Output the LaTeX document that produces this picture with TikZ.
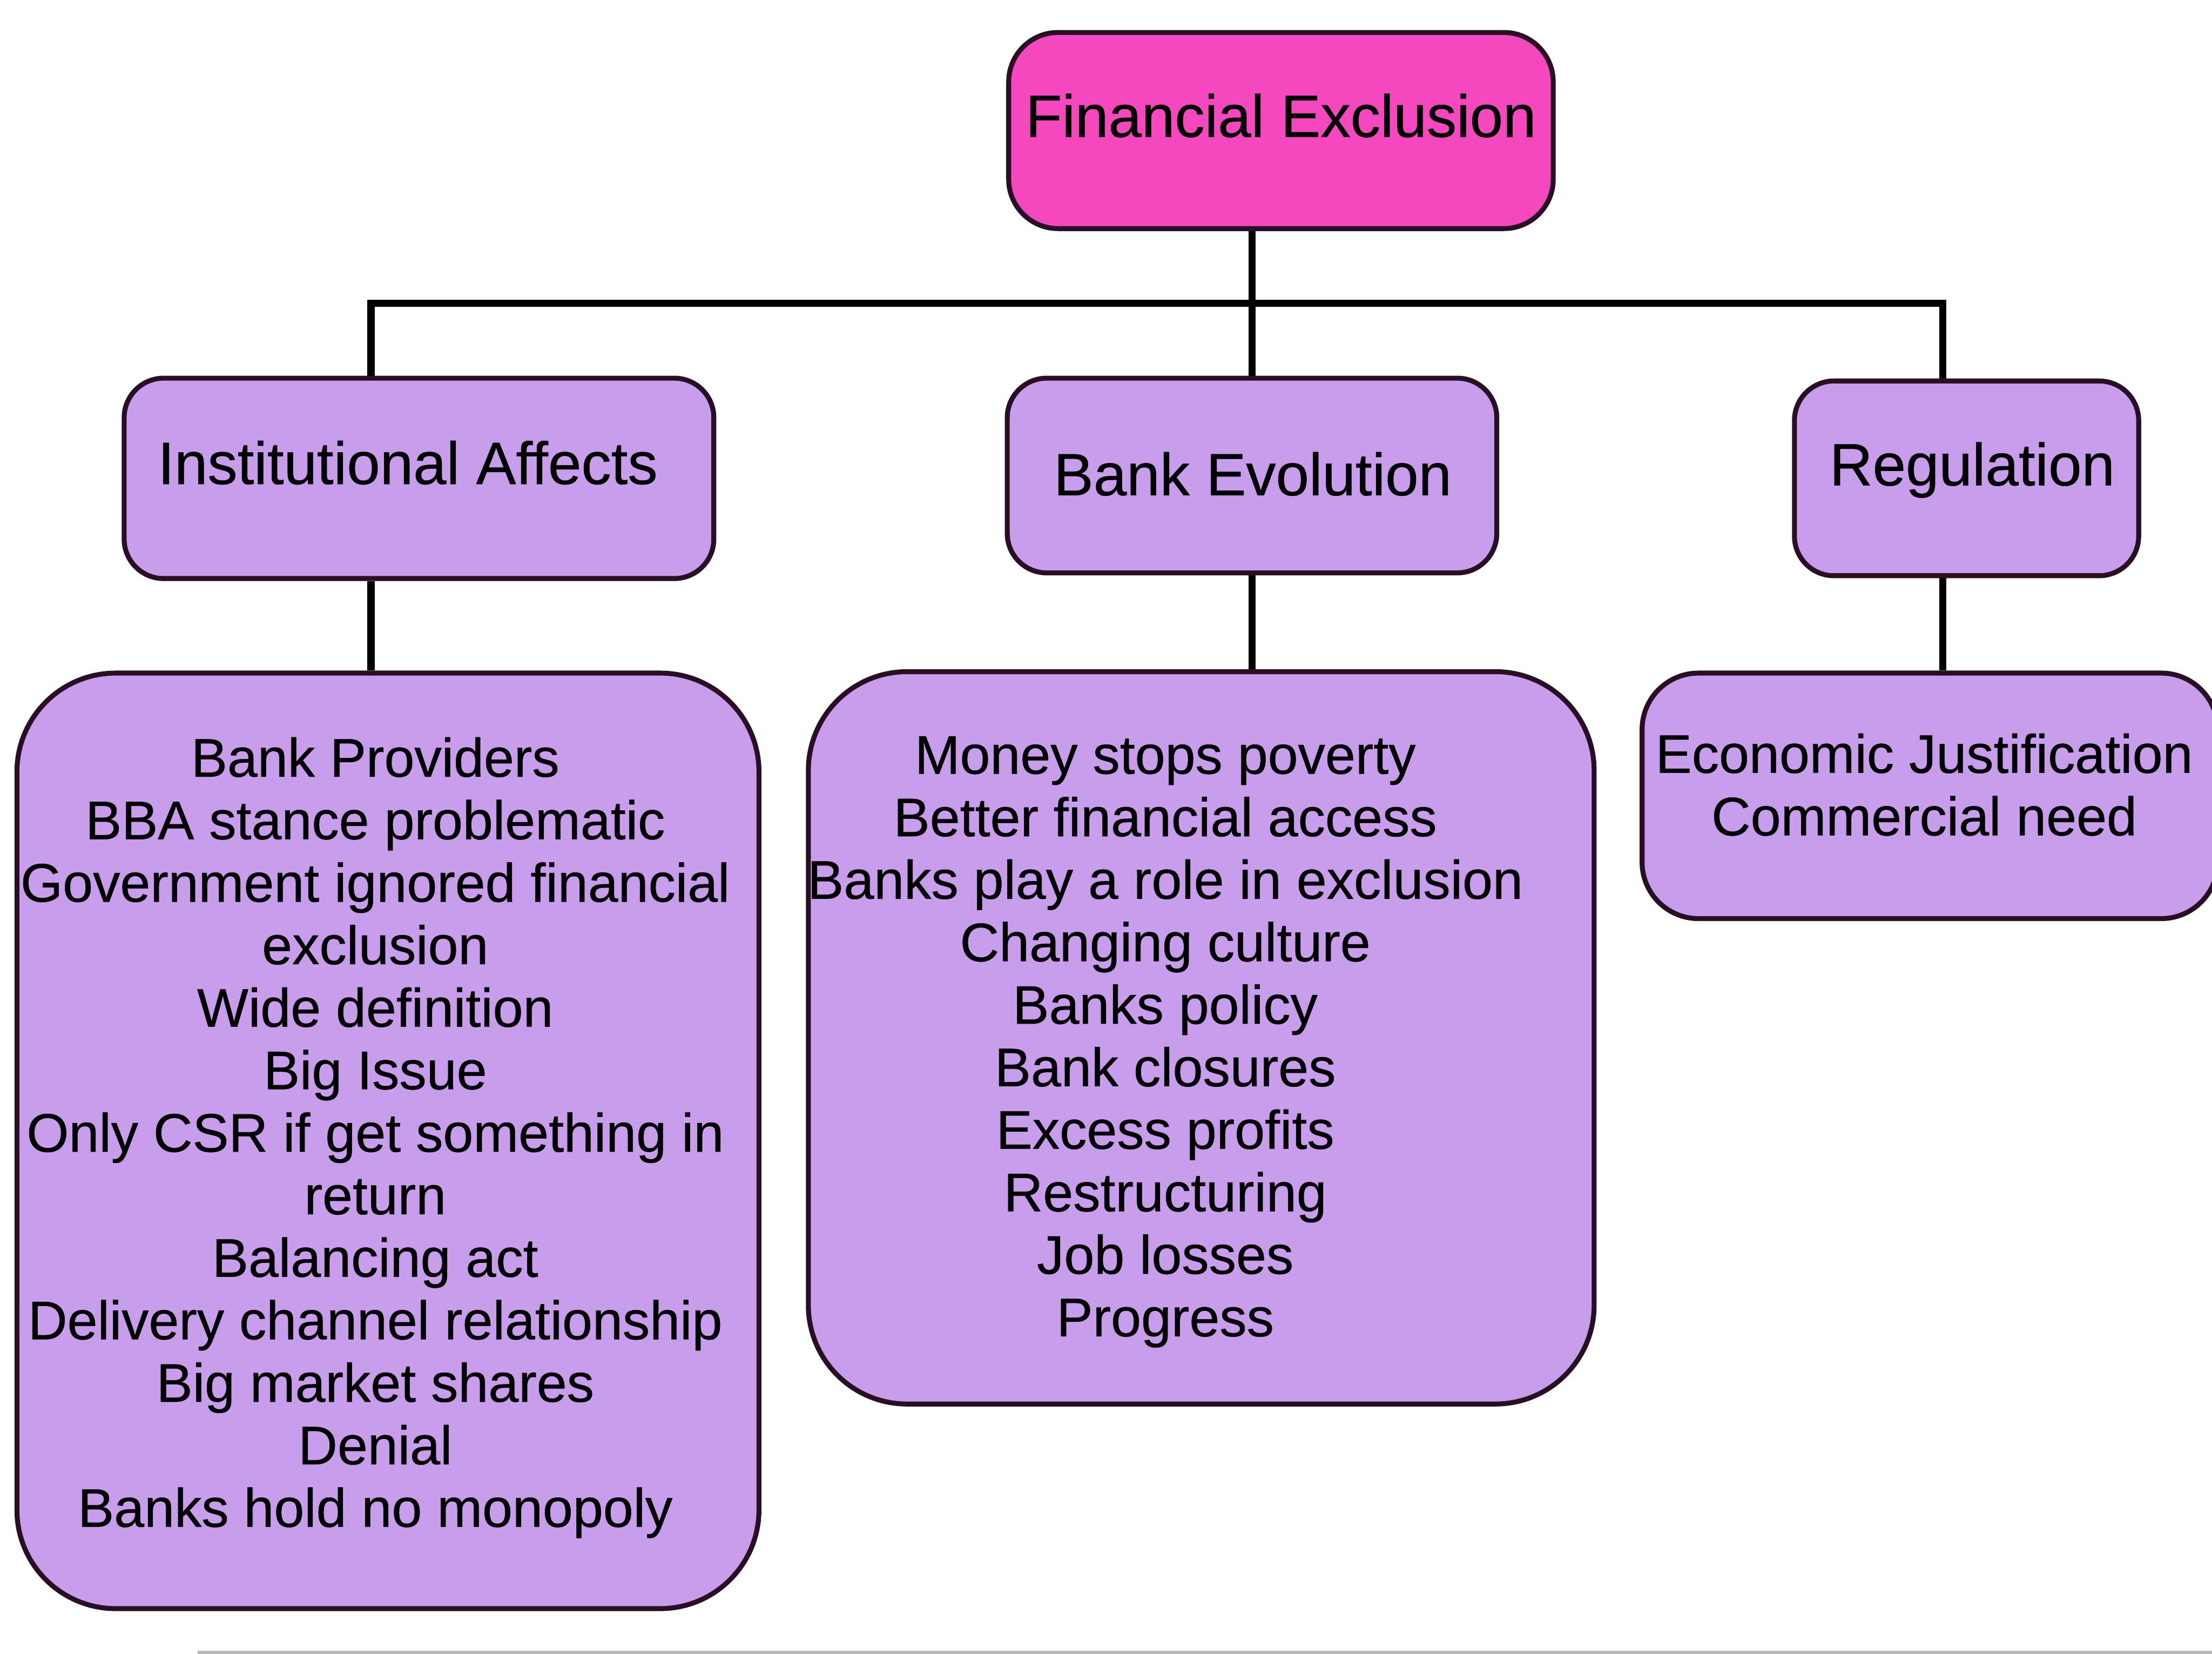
\documentclass[tikz,border=0pt]{standalone}
\usepackage{fontspec}
\setmainfont{Liberation Sans}
\newfontfamily\chartfont[FakeBold=0.5]{Liberation Sans}
\definecolor{fxpink}{RGB}{246,72,190}
\definecolor{fxlilac}{RGB}{200,157,236}
\definecolor{fxedge}{RGB}{40,15,35}
\tikzset{
  box/.style={draw=fxedge, line width=3.5pt, rounded corners=28pt, fill=fxlilac, inner sep=0pt},
  bigbox/.style={box, rounded corners=70pt},
  head/.style={font=\chartfont\fontsize{42.3}{48.6}\selectfont, inner sep=0pt, text height=30pt, text depth=0pt},
  body/.style={font=\chartfont\fontsize{38.5}{44.3}\selectfont, align=center, inner sep=0pt, anchor=base},
  link/.style={line width=5pt, draw=black}
}
\begin{document}
\begin{tikzpicture}[x=1pt, y=-1pt]
\useasboundingbox (0,0) rectangle (1568,1172);
\fill[white] (0,0) rectangle (1568,1172);

% root
\node[box, fill=fxpink, minimum width=386pt, minimum height=139pt, rounded corners=35pt] (fe) at (908,92.5) {};
\node[head] (feT) at (908,82) {Financial Exclusion};

% second level
\node[box, minimum width=418pt, minimum height=142pt] (ia) at (297,339) {};
\node[head] (iaT) at (289,328) {Institutional Affects};
\node[box, minimum width=347pt, minimum height=138pt] (be) at (887.5,337) {};
\node[head] (beT) at (888,336) {Bank Evolution};
\node[box, minimum width=244pt, minimum height=138pt] (reg) at (1394,339) {};
\node[head] (regT) at (1398,329) {Regulation};

% detail boxes (text nodes are placed by the baseline of their last line)
\node[bigbox, minimum width=526pt, minimum height=663pt] (lbox) at (275,808.5) {};
\node[body] (lboxT) at (266,1082) {Bank Providers\\BBA stance problematic\\Government ignored financial\\exclusion\\Wide definition\\Big Issue\\Only CSR if get something in\\return\\Balancing act\\Delivery channel relationship\\Big market shares\\Denial\\Banks hold no monopoly};
\node[bigbox, minimum width=557pt, minimum height=519pt] (mbox) at (851.5,735.5) {};
\node[body] (mboxT) at (826,947) {Money stops poverty\\Better financial access\\Banks play a role in exclusion\\Changing culture\\Banks policy\\Bank closures\\Excess profits\\Restructuring\\Job losses\\Progress};
\node[box, rounded corners=40pt, minimum width=408pt, minimum height=174pt] (rbox) at (1368,564) {};
\node[body] (rboxT) at (1364,592) {Economic Justification\\Commercial need};

% connectors
\coordinate (bus) at (0,215);
\coordinate (xL) at (263,0);
\coordinate (xR) at (1377,0);
\draw[link] (fe.south -| be.north) -- (be.north);
\draw[link] (ia.north -| xL) -- (xL |- bus) -- (xR |- bus) -- (reg.north -| xR);
\draw[link] (ia.south -| xL) -- (lbox.north -| xL);
\draw[link] (be.south) -- (mbox.north -| be.south);
\draw[link] (reg.south -| xR) -- (rbox.north -| xR);

% lower page edge
\draw[gray!55, line width=2pt] (140,1171) -- (1568,1171);
\end{tikzpicture}
\end{document}
